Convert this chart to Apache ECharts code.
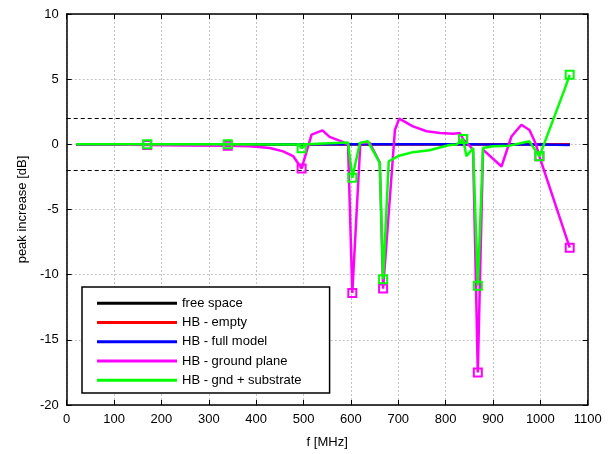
<!DOCTYPE html>
<html><head><meta charset="utf-8">
<script src="https://cdn.jsdelivr.net/npm/echarts@6/dist/echarts.min.js"></script>
<style>html,body{margin:0;padding:0;background:#fff}#c{width:614px;height:454px}</style>
</head><body><div id="c"></div>
<script>
// ---- data ----
const seriesNames = ['free space', 'HB - empty', 'HB - full model', 'HB - ground plane', 'HB - gnd + substrate'];
const xTicks = [0, 100, 200, 300, 400, 500, 600, 700, 800, 900, 1000, 1100];
const yTicks = [-20, -15, -10, -5, 0, 5, 10];
const thresholds = [2, -2];
const markerFreqs = [170, 340, 496, 603, 668, 837, 868, 998, 1062];

const freeF = [20, 170, 340, 496, 603, 668, 837, 868, 998, 1062];
const freeV = [0, 0, 0, 0, 0, 0, 0, 0, 0, 0];
const emptyF = [20, 170, 340, 496, 603, 668, 837, 868, 998, 1062];
const emptyV = [0, 0, 0, 0, 0, 0, 0, 0, 0, 0];
const fullF = [20, 170, 340, 496, 603, 668, 837, 868, 998, 1062];
const fullV = [0, 0, 0, 0.01, 0.01, 0.01, 0.01, 0, -0.02, -0.05];

const gndF = [20, 100, 170, 250, 340, 387, 429, 457, 478, 496, 517, 540, 555, 580, 594, 603, 620, 640, 661, 668, 693, 702, 731, 760, 788, 816, 830, 837, 858, 868, 879, 918, 939, 960, 977, 991, 998, 1062];
const gndV = [0, -0.02, -0.05, -0.08, -0.1, -0.15, -0.28, -0.54, -0.9, -1.85, 0.74, 1.07, 0.57, 0.23, -0.02, -11.4, 0.1, 0.1, -1.4, -11.07, 1.1, 1.97, 1.38, 1.0, 0.87, 0.82, 0.87, 0.41, -0.4, -17.5, -0.4, -1.7, 0.6, 1.5, 1.1, -0.02, -0.92, -7.93];

const subF = [20, 170, 340, 490, 496, 505, 594, 603, 619, 636, 661, 668, 680, 700, 731, 766, 808, 823, 837, 844, 858, 868, 879, 900, 935, 977, 998, 1051, 1062];
const subV = [0, 0, 0, -0.02, -0.3, 0, 0.15, -2.57, 0.1, 0.23, -1.43, -10.35, -1.3, -0.9, -0.6, -0.46, -0.05, -0.02, 0.41, -0.92, -0.28, -10.85, -0.28, -0.15, -0.1, 0.23, -0.92, 4.2, 5.33];

const colors = ['#000000', '#ff0000', '#0000ff', '#ff00ff', '#00ff00'];

// ---- build ----
function pairs(f, v) { return f.map((x, i) => [x, v[i]]); }
const FONT = 'Liberation Sans, Arial, sans-serif';
const chart = echarts.init(document.getElementById('c'), null, { renderer: 'canvas' });

function lineSeries(idx, f, v, markers) {
  return {
    name: seriesNames[idx], type: 'line', data: pairs(f, v),
    xAxisIndex: 0, yAxisIndex: 0,
    showSymbol: markers, symbolSize: 8,
    symbol: markers ? (val => markerFreqs.includes(val[0]) ? 'rect' : 'none') : 'none',
    itemStyle: { color: 'rgba(255,255,255,0)', borderColor: colors[idx], borderWidth: 2 },
    lineStyle: { color: colors[idx], width: 2.5 },
    emphasis: { disabled: true }, animation: false, z: 2 + idx
  };
}

const series = [
  lineSeries(0, freeF, freeV, false),
  lineSeries(1, emptyF, emptyV, false),
  lineSeries(2, fullF, fullV, false),
  lineSeries(3, gndF, gndV, true),
  lineSeries(4, subF, subV, true)
];
series[0].markLine = {
  silent: true, symbol: ['none', 'none'], label: { show: false },
  lineStyle: { color: '#000', type: [4, 3], width: 1.2 },
  data: thresholds.map(t => ({ yAxis: t })), animation: false
};

const axisLineStyle = { show: true, onZero: false, lineStyle: { color: '#000', width: 1.5 } };
chart.setOption({
  backgroundColor: '#fff',
  animation: false,
  grid: { left: 66.7, right: 26.3, top: 14, bottom: 48, containLabel: false },
  legend: {
    orient: 'vertical', left: 82, top: 287,
    data: seriesNames.map((n, i) => ({ name: n, icon: 'rect', itemStyle: { color: colors[i], borderWidth: 0 } })),
    itemWidth: 80, itemHeight: 3, itemGap: 0, itemTextGap: 8,
    textStyle: { fontFamily: FONT, fontSize: 13, color: '#000', lineHeight: 19.3 },
    backgroundColor: '#fff', borderColor: '#000', borderWidth: 1.5,
    padding: [6.5, 28, 3, 15], selectedMode: false
  },
  xAxis: [{
    type: 'value', min: 0, max: 1100, interval: 100,
    name: 'f [MHz]', nameLocation: 'middle', nameGap: 31,
    nameTextStyle: { fontFamily: FONT, fontSize: 13, color: '#000' },
    axisLine: axisLineStyle,
    axisTick: { show: true, inside: true, length: 5, lineStyle: { color: '#000', width: 1 } },
    axisLabel: { fontFamily: FONT, fontSize: 13, color: '#000', margin: 8, formatter: v => xTicks.includes(v) ? String(v) : '' },
    splitLine: { show: true, lineStyle: { color: '#c4c4c4', type: [2, 2], width: 1 } }
  }, {
    type: 'value', min: 0, max: 1100, interval: 100, position: 'top',
    axisLine: axisLineStyle,
    axisTick: { show: true, inside: true, length: 5, lineStyle: { color: '#000', width: 1 } },
    axisLabel: { show: false }, splitLine: { show: false }
  }],
  yAxis: [{
    type: 'value', min: -20, max: 10, interval: 5,
    name: 'peak increase [dB]', nameLocation: 'middle', nameGap: 38,
    nameTextStyle: { fontFamily: FONT, fontSize: 13, color: '#000' },
    axisLine: axisLineStyle,
    axisTick: { show: true, inside: true, length: 5, lineStyle: { color: '#000', width: 1 } },
    axisLabel: { fontFamily: FONT, fontSize: 13, color: '#000', margin: 8, formatter: v => yTicks.includes(v) ? String(v) : '' },
    splitLine: { show: true, lineStyle: { color: '#c4c4c4', type: [2, 2], width: 1 } }
  }, {
    type: 'value', min: -20, max: 10, interval: 5, position: 'right',
    axisLine: axisLineStyle,
    axisTick: { show: true, inside: true, length: 5, lineStyle: { color: '#000', width: 1 } },
    axisLabel: { show: false }, splitLine: { show: false }
  }],
  series: series
});
</script></body></html>
